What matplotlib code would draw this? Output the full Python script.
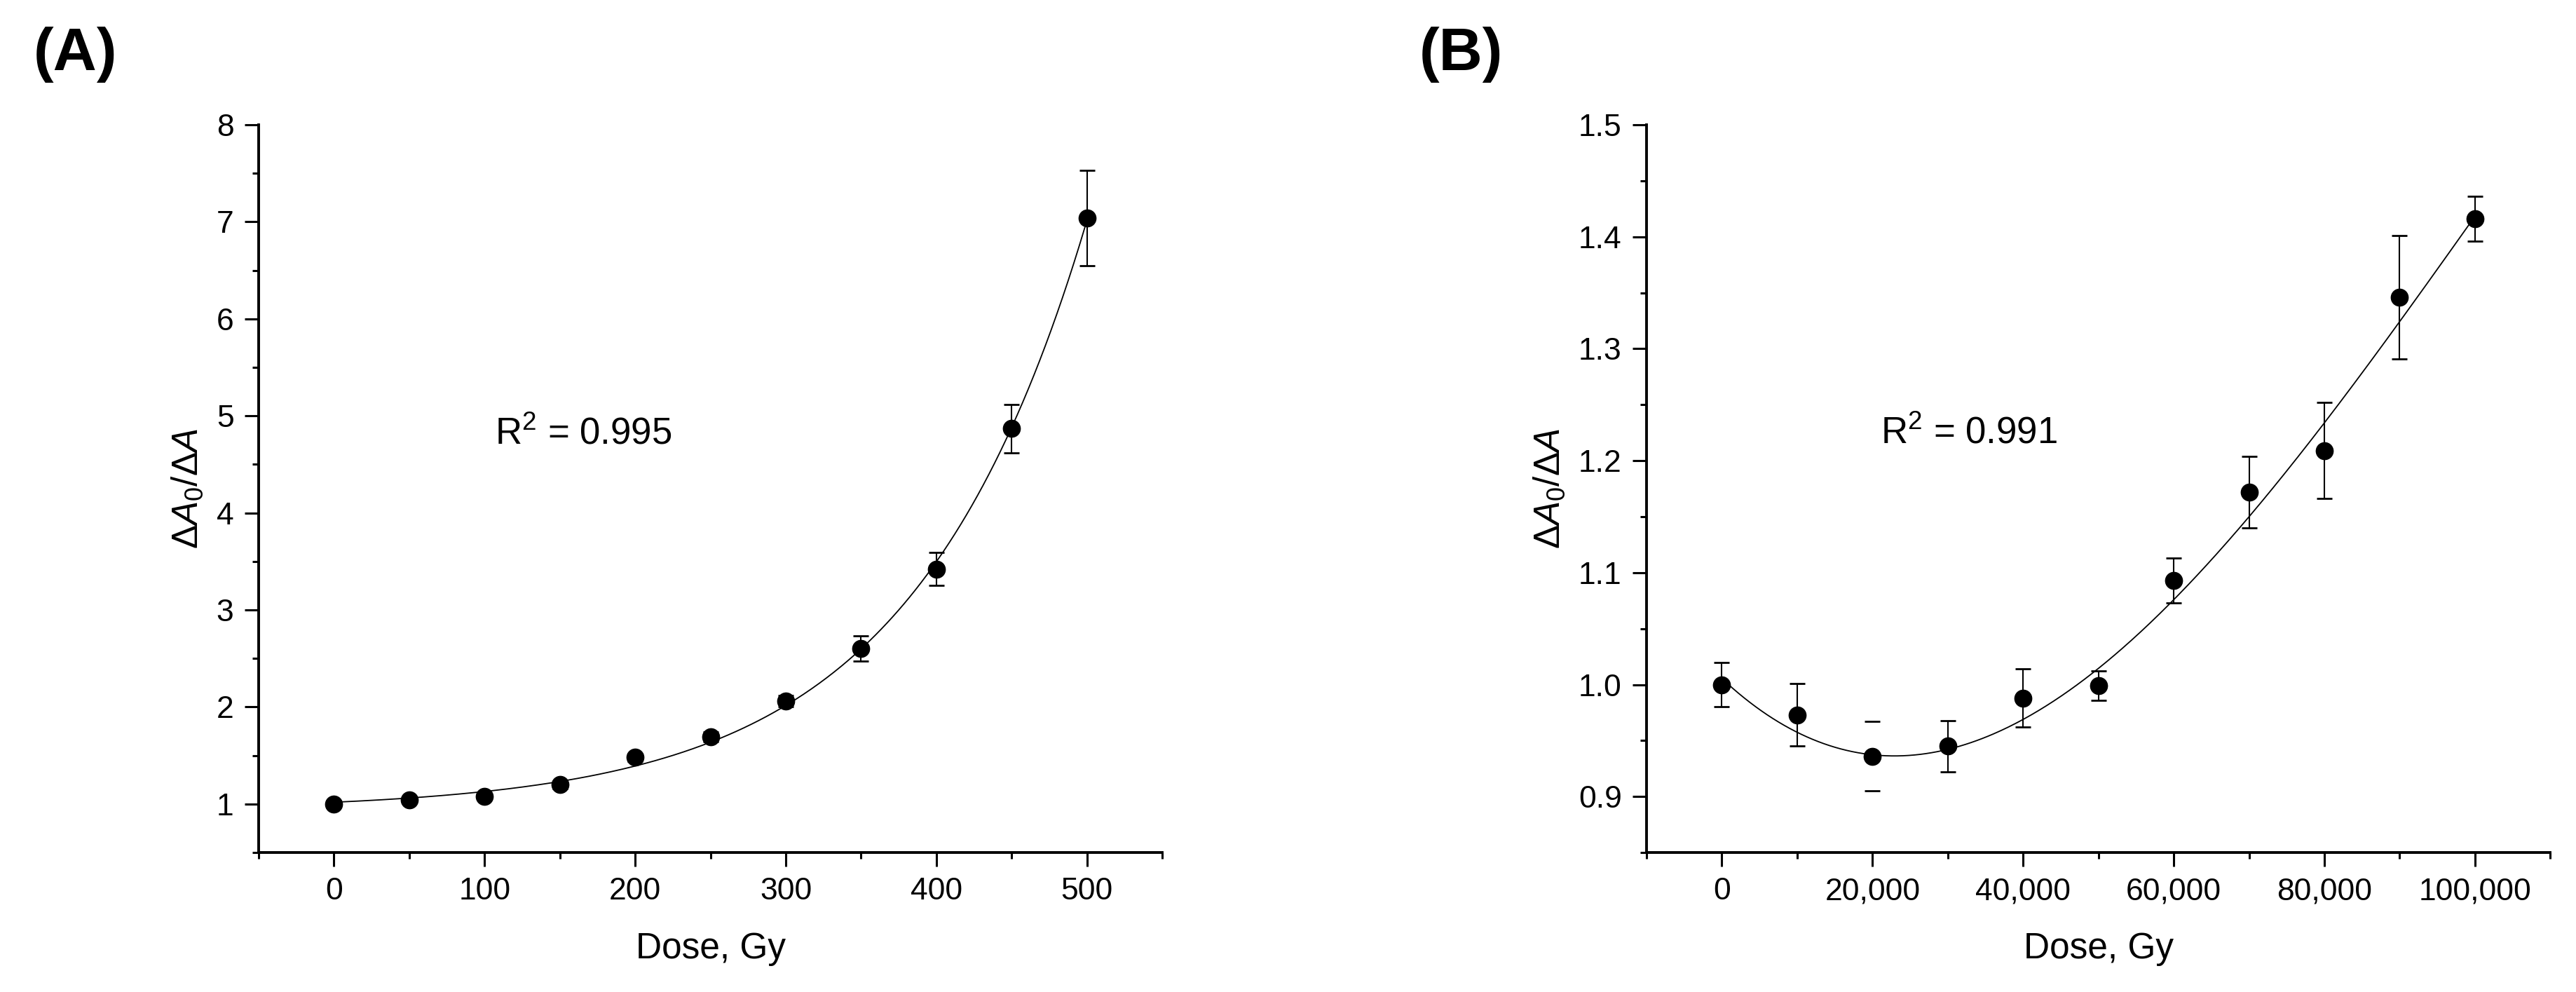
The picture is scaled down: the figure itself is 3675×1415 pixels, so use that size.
import numpy as np
import matplotlib
matplotlib.use('Agg')
import matplotlib.pyplot as plt
from matplotlib.ticker import MultipleLocator, FuncFormatter

plt.rcParams['font.family'] = ['Liberation Sans', 'DejaVu Sans']
plt.rcParams['mathtext.fontset'] = 'custom'
plt.rcParams['mathtext.rm'] = 'Liberation Sans'
plt.rcParams['mathtext.it'] = 'Liberation Sans:italic'
plt.rcParams['mathtext.bf'] = 'Liberation Sans:bold'

# ---- Data: panel A ----
dose_a = [0, 50, 100, 150, 200, 250, 300, 350, 400, 450, 500]
ratio_a = [1.00, 1.04, 1.08, 1.20, 1.48, 1.69, 2.06, 2.60, 3.42, 4.87, 7.04]
err_a = [0.03, 0.03, 0.03, 0.04, 0.04, 0.05, 0.06, 0.13, 0.17, 0.25, 0.49]
r2_a = "0.995"

# ---- Data: panel B ----
dose_b = [0, 10000, 20000, 30000, 40000, 50000, 60000, 70000, 80000, 90000, 100000]
ratio_b = [1.000, 0.973, 0.936, 0.945, 0.988, 0.999, 1.093, 1.172, 1.209, 1.346, 1.416]
err_b = [0.020, 0.028, 0.031, 0.023, 0.026, 0.013, 0.020, 0.032, 0.043, 0.055, 0.020]
r2_b = "0.991"

xlabel = "Dose, Gy"
ylabel = r"$\Delta \mathit{A}_{\mathit{0}}/\Delta \mathit{A}$"

fig = plt.figure(figsize=(36.75, 14.15), dpi=100)
axA = fig.add_axes([0.1004, 0.1406, 0.3508, 0.7336])
axB = fig.add_axes([0.6392, 0.1406, 0.3508, 0.7336])


def style(ax):
    for s in ['top', 'right']:
        ax.spines[s].set_visible(False)
    for s in ['left', 'bottom']:
        ax.spines[s].set_linewidth(2.8)
    ax.tick_params(which='major', direction='out', length=14.5, width=2.2,
                   labelsize=32, pad=11)
    ax.tick_params(which='minor', direction='out', length=6.5, width=2.2)
    ax.set_xlabel(xlabel, fontsize=37, labelpad=26)
    ax.set_ylabel(ylabel, fontsize=37, labelpad=12)


def draw(ax, x, y, e):
    x = np.asarray(x, float)
    y = np.asarray(y, float)
    cont = ax.errorbar(x, y, yerr=e, fmt='o', color='black', markersize=17.5,
                       ecolor='black', elinewidth=1.5, capsize=8, capthick=2.0,
                       zorder=3)
    return cont

# Panel A: exponential fit y = y0 + A*exp(x/t)
xa = np.asarray(dose_a, float)
ya = np.asarray(ratio_a, float)
best = None
for t in np.linspace(40, 500, 4601):
    M = np.column_stack([np.ones_like(xa), np.exp(xa / t)])
    coef, *_ = np.linalg.lstsq(M, ya, rcond=None)
    sse = np.sum((M @ coef - ya) ** 2)
    if best is None or sse < best[0]:
        best = (sse, t, coef)
_, tA, cA = best
xs = np.linspace(0, 500, 400)
axA.plot(xs, cA[0] + cA[1] * np.exp(xs / tA), color='black', lw=1.3, zorder=2)
draw(axA, dose_a, ratio_a, err_a)
axA.set_xlim(-50, 550)
axA.set_ylim(0.5, 8)
axA.xaxis.set_major_locator(MultipleLocator(100))
axA.xaxis.set_minor_locator(MultipleLocator(50))
axA.yaxis.set_major_locator(MultipleLocator(1))
axA.yaxis.set_minor_locator(MultipleLocator(0.5))
axA.text(107, 4.71, r"R$^2$ = " + r2_a, fontsize=38, va='baseline')
style(axA)

# Panel B: polynomial (cubic) fit weighted by error bars
xb = np.asarray(dose_b, float)
yb = np.asarray(ratio_b, float)
eb = np.asarray(err_b, float)
xn = xb / 1e5
pB = np.polyfit(xn, yb, 3, w=1.0 / eb)
xs = np.linspace(0, 100000, 400)
axB.plot(xs, np.polyval(pB, xs / 1e5), color='black', lw=1.3, zorder=2)
contB = draw(axB, dose_b, ratio_b, err_b)
lw = [1.5] * len(dose_b)
lw[2] = 0.0
contB[2][0].set_linewidths(lw)
axB.set_xlim(-10000, 110000)
axB.set_ylim(0.85, 1.5)
axB.xaxis.set_major_locator(MultipleLocator(20000))
axB.xaxis.set_minor_locator(MultipleLocator(10000))
axB.xaxis.set_major_formatter(FuncFormatter(lambda v, p: f"{int(round(v)):,}"))
axB.yaxis.set_major_locator(MultipleLocator(0.1))
axB.yaxis.set_minor_locator(MultipleLocator(0.05))
axB.yaxis.set_major_formatter(FuncFormatter(lambda v, p: f"{v:.1f}"))
axB.text(21100, 1.2156, r"R$^2$ = " + r2_b, fontsize=38, va='baseline')
style(axB)

fig.text(0.013, 0.929, "(A)", fontsize=62, fontweight='bold', va='baseline')
fig.text(0.551, 0.929, "(B)", fontsize=62, fontweight='bold', va='baseline')

fig.savefig('out.png', dpi=100, facecolor='white')
